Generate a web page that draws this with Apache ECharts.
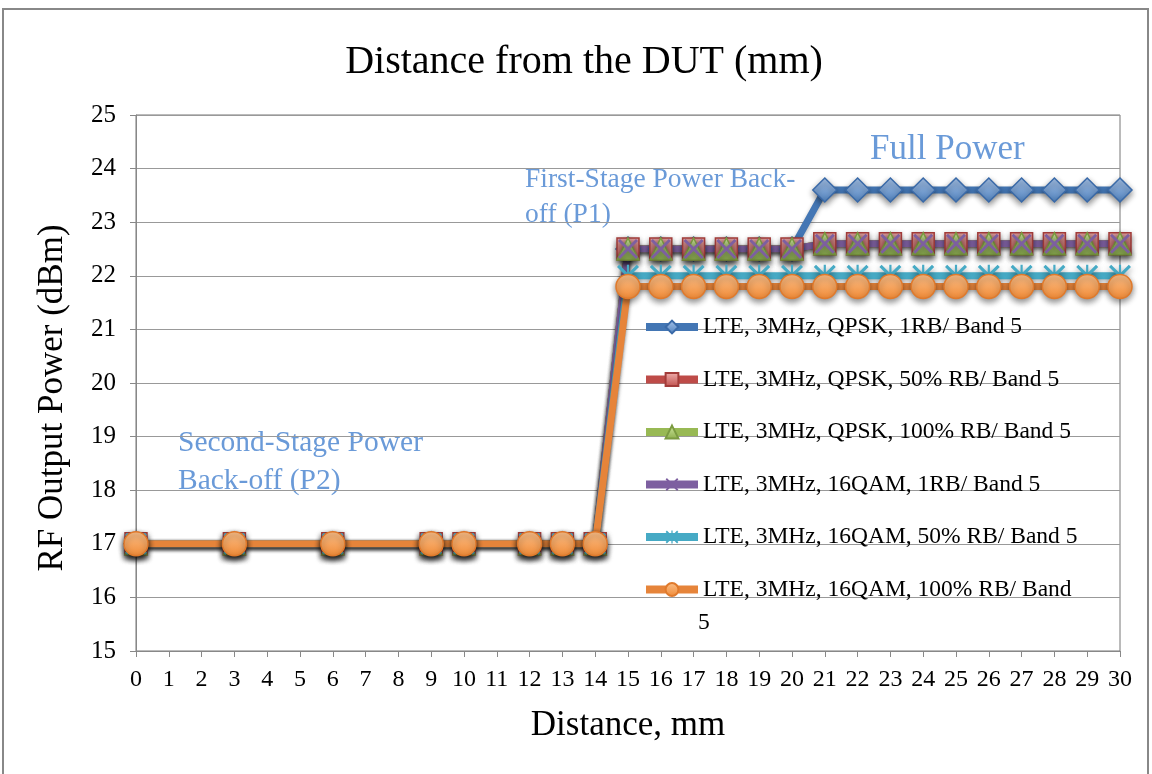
<!DOCTYPE html>
<html>
<head>
<meta charset="utf-8">
<script src="https://cdn.jsdelivr.net/npm/echarts@6/dist/echarts.min.js"></script>
<style>
  html, body { margin: 0; padding: 0; background: #fff; }
  #chart { width: 1152px; height: 774px; }
</style>
</head>
<body>
<div id="chart"></div>
<script>
var distances = [0, 3, 6, 9, 10, 12, 13, 14, 15, 16, 17, 18, 19, 20, 21, 22, 23, 24, 25, 26, 27, 28, 29, 30];

var qpsk1RB   = [17, 17, 17, 17, 17, 17, 17, 17, 22.5, 22.5, 22.5, 22.5, 22.5, 22.5, 23.6, 23.6, 23.6, 23.6, 23.6, 23.6, 23.6, 23.6, 23.6, 23.6];
var qpsk50RB  = [17, 17, 17, 17, 17, 17, 17, 17, 22.5, 22.5, 22.5, 22.5, 22.5, 22.5, 22.6, 22.6, 22.6, 22.6, 22.6, 22.6, 22.6, 22.6, 22.6, 22.6];
var qpsk100RB = [17, 17, 17, 17, 17, 17, 17, 17, 22.5, 22.5, 22.5, 22.5, 22.5, 22.5, 22.6, 22.6, 22.6, 22.6, 22.6, 22.6, 22.6, 22.6, 22.6, 22.6];
var qam1RB    = [17, 17, 17, 17, 17, 17, 17, 17, 22.5, 22.5, 22.5, 22.5, 22.5, 22.5, 22.6, 22.6, 22.6, 22.6, 22.6, 22.6, 22.6, 22.6, 22.6, 22.6];
var qam50RB   = [17, 17, 17, 17, 17, 17, 17, 17, 22.0, 22.0, 22.0, 22.0, 22.0, 22.0, 22.0, 22.0, 22.0, 22.0, 22.0, 22.0, 22.0, 22.0, 22.0, 22.0];
var qam100RB  = [17, 17, 17, 17, 17, 17, 17, 17, 21.8, 21.8, 21.8, 21.8, 21.8, 21.8, 21.8, 21.8, 21.8, 21.8, 21.8, 21.8, 21.8, 21.8, 21.8, 21.8];

var seriesNames = [
    'LTE, 3MHz, QPSK, 1RB/ Band 5',
    'LTE, 3MHz, QPSK, 50% RB/ Band 5',
    'LTE, 3MHz, QPSK, 100% RB/ Band 5',
    'LTE, 3MHz, 16QAM, 1RB/ Band 5',
    'LTE, 3MHz, 16QAM, 50% RB/ Band 5',
    'LTE, 3MHz, 16QAM, 100% RB/ Band 5'
];

var FONT = "'Liberation Serif', 'Times New Roman', serif";
var NOTE = '#6a9ad8';

var xSymbol = 'path://M0,2 L2,0 L10,8 L18,0 L20,2 L12,10 L20,18 L18,20 L10,12 L2,20 L0,18 L8,10 Z';
var starSymbol = 'path://M0,2 L2,0 L10,8 L18,0 L20,2 L12,10 L20,18 L18,20 L10,12 L2,20 L0,18 L8,10 Z M9,0 L11,0 L11,20 L9,20 Z';

function pairs(values) {
    return distances.map(function (d, i) { return [d, values[i]]; });
}

function grad(light, dark) {
    return new echarts.graphic.LinearGradient(0, 0, 0, 1, [
        {offset: 0, color: light},
        {offset: 1, color: dark}
    ]);
}

function makeSeries(name, values, lineColor, symbol, size, fill, border) {
    return {
        name: name,
        type: 'line',
        data: pairs(values),
        symbol: symbol,
        symbolSize: size,
        lineStyle: {
            width: 7,
            color: lineColor,
            shadowBlur: 4,
            shadowColor: 'rgba(0,0,0,0.3)',
            shadowOffsetY: 2
        },
        itemStyle: {
            color: fill,
            borderColor: border,
            borderWidth: border ? 1.5 : 0,
            shadowBlur: 6,
            shadowColor: 'rgba(0,0,0,0.45)',
            shadowOffsetY: 3
        },
        emphasis: {disabled: true}
    };
}

var myChart = echarts.init(document.getElementById('chart'));

var option = {
    animation: false,
    textStyle: {fontFamily: FONT},
    grid: {
        left: 136,
        right: 32,
        top: 115,
        bottom: 123,
        show: true,
        borderColor: '#777',
        borderWidth: 1
    },
    xAxis: {
        type: 'value',
        min: 0,
        max: 30,
        interval: 1,
        name: 'Distance, mm',
        nameLocation: 'middle',
        nameGap: 57,
        nameTextStyle: {fontSize: 35, color: '#000', fontFamily: FONT},
        axisLine: {lineStyle: {color: '#888', width: 1}},
        axisTick: {show: true, length: 6, lineStyle: {color: '#888'}},
        axisLabel: {fontSize: 24, color: '#000', margin: 17, fontFamily: FONT},
        splitLine: {show: false}
    },
    yAxis: {
        type: 'value',
        min: 15,
        max: 25,
        interval: 1,
        name: 'RF Output Power (dBm)',
        nameLocation: 'middle',
        nameGap: 66,
        nameTextStyle: {fontSize: 35, color: '#000', fontFamily: FONT, padding: [0, 30, 0, 0]},
        axisLine: {show: true, lineStyle: {color: '#888', width: 1}},
        axisTick: {show: true, length: 6, lineStyle: {color: '#888'}},
        axisLabel: {fontSize: 25, color: '#000', margin: 20, fontFamily: FONT},
        splitLine: {show: true, lineStyle: {color: '#999', width: 1}}
    },
    legend: {
        orient: 'vertical',
        left: 637,
        top: 309,
        itemWidth: 52,
        itemHeight: 16,
        itemGap: 26.5,
        data: seriesNames,
        lineStyle: {width: 8},
        formatter: function (name) {
            return name === seriesNames[5] ? 'LTE, 3MHz, 16QAM, 100% RB/ Band' : name;
        },
        textStyle: {fontSize: 23.5, lineHeight: 26, color: '#000', fontFamily: FONT}
    },
    graphic: [
        {
            type: 'rect',
            shape: {x: 3, y: 9, width: 1145, height: 780},
            style: {fill: null, stroke: '#888', lineWidth: 2},
            silent: true
        },
        {
            type: 'text',
            x: 584,
            y: 62,
            style: {text: 'Distance from the DUT (mm)', font: '40px ' + FONT, fill: '#000', align: 'center', verticalAlign: 'middle'}
        },
        {
            type: 'text', x: 870, y: 150,
            style: {text: 'Full Power', font: '35px ' + FONT, fill: NOTE, verticalAlign: 'middle'}
        },
        {
            type: 'text', x: 525, y: 197,
            style: {text: 'First-Stage Power Back-\noff (P1)', font: '27.5px ' + FONT, lineHeight: 35, fill: NOTE, verticalAlign: 'middle'}
        },
        {
            type: 'text', x: 178, y: 462,
            style: {text: 'Second-Stage Power\nBack-off (P2)', font: '29.5px ' + FONT, lineHeight: 38, fill: NOTE, verticalAlign: 'middle'}
        },
        {
            type: 'text', x: 698, y: 623,
            style: {text: '5', font: '23.5px ' + FONT, fill: '#000', verticalAlign: 'middle'}
        }
    ],
    series: [
        makeSeries(seriesNames[0], qpsk1RB, '#4376b4', 'diamond', 24, grad('#a8c4ea', '#4f81bd'), '#3a6aa8'),
        makeSeries(seriesNames[1], qpsk50RB, '#be4b48', 'rect', 22, grad('#f0b0ae', '#c0504d'), '#a33c3a'),
        makeSeries(seriesNames[2], qpsk100RB, '#98b954', 'triangle', 22, grad('#d0e8a0', '#8cae4c'), '#7a9a40'),
        makeSeries(seriesNames[3], qam1RB, '#7d5fa0', xSymbol, 20, '#7d5fa0', null),
        makeSeries(seriesNames[4], qam50RB, '#46aac5', starSymbol, 22, '#46aac5', null),
        makeSeries(seriesNames[5], qam100RB, '#e6843a', 'circle', 24, grad('#fbc08a', '#f08a36'), '#e07a2c')
    ]
};

myChart.setOption(option);
</script>
</body>
</html>
